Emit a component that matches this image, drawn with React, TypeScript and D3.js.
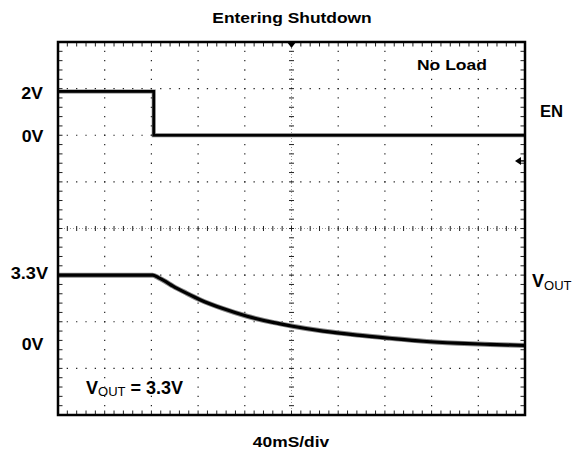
import React from "react";
import * as d3 from "d3";

// ---- Data (read from the scope capture) ----
const timeDivs = 10; // horizontal divisions, 40 ms/div
const voltDivs = 8;  // vertical divisions
const msPerDiv = 40;

// EN channel: 2 V/div, ground at +2 div
const enTime = [0, 82, 82, 400];
const enVolts = [1.88, 1.88, 0, 0];

// VOUT channel: ground at -2.5 div
const voutTime = [0, 40, 81, 86, 92, 98.5, 110, 121.6, 141.3, 162, 184, 201, 227, 256, 284, 313, 342, 370, 400];
const voutVolts = [3.3, 3.3, 3.3, 3.18, 3.0, 2.78, 2.45, 2.14, 1.72, 1.36, 1.07, 0.89, 0.66, 0.47, 0.32, 0.18, 0.09, 0.03, -0.02];

const enVPerDiv = 2;
const enOffsetDiv = 2;
const voutVPerDiv = 2.2;
const voutOffsetDiv = -2.5;
const triggerLevelV = -1.1;

// ---- Layout ----
const W = 578;
const H = 458;
const X0 = 58, X1 = 525, Y0 = 42, Y1 = 415;
const FONT = "'Liberation Sans', Arial, Helvetica, sans-serif";

const xT = d3.scaleLinear().domain([0, timeDivs * msPerDiv]).range([X0, X1]);
const xDiv = d3.scaleLinear().domain([0, timeDivs]).range([X0, X1]);
const yDiv = d3.scaleLinear().domain([-voltDivs / 2, voltDivs / 2]).range([Y1, Y0]);
const yEN = (v: number) => yDiv(enOffsetDiv + v / enVPerDiv);
const yVOUT = (v: number) => yDiv(voutOffsetDiv + v / voutVPerDiv);

type LP = { x: number; y: number; size: number; sx?: number; anchor?: "start" | "end" | "middle"; weight?: string; children: React.ReactNode };
function Label({ x, y, size, sx = 1, anchor = "start", weight = "bold", children }: LP) {
  return (
    <text
      transform={`translate(${x},${y}) scale(${sx},1)`}
      fontFamily={FONT}
      fontSize={size}
      fontWeight={weight}
      textAnchor={anchor}
      fill="#000"
    >
      {children}
    </text>
  );
}

export default function App() {
  const enLine = d3
    .line<number>()
    .x((_, i) => xT(enTime[i]))
    .y((v) => yEN(v))(enVolts) as string;
  const voutLine = d3
    .line<number>()
    .x((_, i) => xT(voutTime[i]))
    .y((v) => yVOUT(v))
    .curve(d3.curveMonotoneX)(voutVolts) as string;

  const minorX = d3.range(0, timeDivs * 5 + 1).map((i) => xDiv(i / 5));
  const minorY = d3.range(0, voltDivs * 5 + 1).map((i) => yDiv(-voltDivs / 2 + i / 5));
  const majorX = d3.range(1, timeDivs).filter((k) => k !== timeDivs / 2).map((k) => xDiv(k));
  const majorY = d3.range(1, voltDivs).filter((k) => k !== voltDivs / 2).map((k) => yDiv(-voltDivs / 2 + k));
  const cx = xDiv(timeDivs / 2);
  const cy = yDiv(0);
  const mW = (X1 - X0) / (timeDivs * 5);
  const mH = (Y1 - Y0) / (voltDivs * 5);
  const dot = 1.3;
  const ty = yEN(triggerLevelV);

  return (
    <svg width={W} height={H} style={{ position: "absolute", left: 0, top: 0, background: "#fff" }}>
      <rect x={0} y={0} width={W} height={H} fill="#fff" />
      {/* major dotted grid */}
      <g stroke="#222" strokeWidth={1.2}>
        {majorX.map((x, i) => (
          <line key={"vx" + i} x1={x} x2={x} y1={Y0} y2={Y1} strokeDasharray={`${dot} ${mH - dot}`} strokeDashoffset={dot / 2} />
        ))}
        {majorY.map((y, i) => (
          <line key={"hy" + i} x1={X0} x2={X1} y1={y} y2={y} strokeDasharray={`${dot} ${mW - dot}`} strokeDashoffset={dot / 2} />
        ))}
      </g>
      {/* center cross */}
      <g stroke="#999" strokeWidth={1}>
        <line x1={cx} x2={cx} y1={Y0} y2={Y1} strokeDasharray="1 2" />
        <line x1={X0} x2={X1} y1={cy} y2={cy} strokeDasharray="1 2" />
      </g>
      <g stroke="#222" strokeWidth={1}>
        {minorY.map((y, i) => (
          <line key={"cty" + i} x1={cx - 2.5} x2={cx + 2.5} y1={y} y2={y} />
        ))}
        {minorX.map((x, i) => (
          <line key={"ctx" + i} x1={x} x2={x} y1={cy - 2.5} y2={cy + 2.5} />
        ))}
        {/* border ticks */}
        {minorX.map((x, i) => (
          <g key={"btx" + i}>
            <line x1={x} x2={x} y1={Y0} y2={Y0 + 4.5} />
            <line x1={x} x2={x} y1={Y1} y2={Y1 - 4.5} />
          </g>
        ))}
        {minorY.map((y, i) => (
          <g key={"bty" + i}>
            <line x1={X0} x2={X0 + 4.5} y1={y} y2={y} />
            <line x1={X1} x2={X1 - 4.5} y1={y} y2={y} />
          </g>
        ))}
      </g>
      {/* traces */}
      <path d={enLine} fill="none" stroke="#777" strokeWidth={4} strokeLinejoin="miter" />
      <path d={enLine} fill="none" stroke="#000" strokeWidth={2.6} strokeLinejoin="miter" />
      <path d={voutLine} fill="none" stroke="#888" strokeWidth={5} />
      <path d={voutLine} fill="none" stroke="#000" strokeWidth={3.2} />
      {/* frame */}
      <rect x={X0} y={Y0} width={X1 - X0} height={Y1 - Y0} fill="none" stroke="#000" strokeWidth={2.5} />
      {/* trigger markers */}
      <path d={`M${cx - 4.5},${Y0} L${cx + 4.5},${Y0} L${cx},${Y0 + 6} Z`} fill="#000" />
      <path d={`M${X1 - 10},${ty} L${X1 - 4},${ty - 4} L${X1 - 4},${ty + 4} Z`} fill="#000" />
      <line x1={X1 - 5} x2={X1} y1={ty} y2={ty} stroke="#000" strokeWidth={1.4} />
      {/* texts */}
      <Label x={292} y={23} size={14.5} sx={1.2} anchor="middle">Entering Shutdown</Label>
      <Label x={417} y={70} size={14} sx={1.25}>No Load</Label>
      <Label x={540} y={117} size={16} sx={1.04}>EN</Label>
      <Label x={43} y={99} size={16.5} sx={1.08} anchor="end">2V</Label>
      <Label x={43.5} y={142} size={16.5} sx={1.08} anchor="end">0V</Label>
      <Label x={48} y={279} size={16.5} sx={1.1} anchor="end">3.3V</Label>
      <Label x={43.5} y={350} size={16.5} sx={1.08} anchor="end">0V</Label>
      <text x={532} y={287} fontFamily={FONT} fill="#000" fontWeight="bold">
        <tspan fontSize={18}>V</tspan>
        <tspan fontSize={13} dy={3} fontWeight="normal">OUT</tspan>
      </text>
      <text x={86} y={394} fontFamily={FONT} fill="#000" fontWeight="bold">
        <tspan fontSize={18}>V</tspan>
        <tspan fontSize={13} dy={2} fontWeight="normal">OUT</tspan>
        <tspan fontSize={18} dy={-2}> = 3.3V</tspan>
      </text>
      <Label x={291} y={447} size={14.5} sx={1.2} anchor="middle">40mS/div</Label>
    </svg>
  );
}
